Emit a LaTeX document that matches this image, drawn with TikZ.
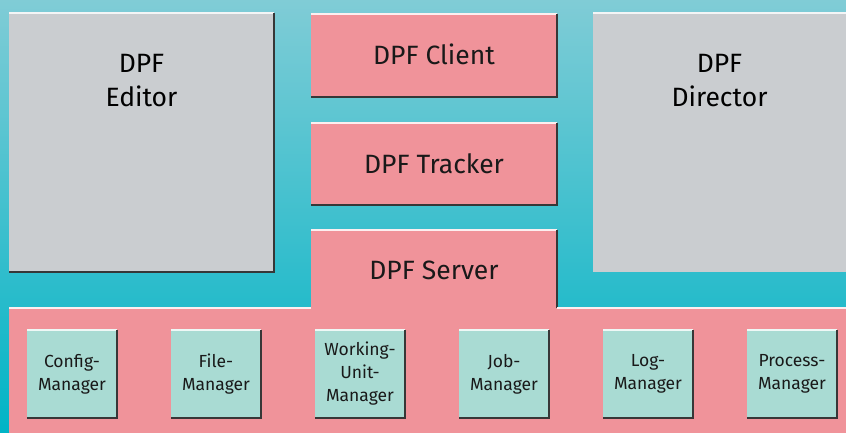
\documentclass[tikz,border=0pt]{standalone}
\usepackage{fontspec}
\setmainfont{Fira Sans}
\usepackage{tikz}
\usetikzlibrary{positioning}
\definecolor{skytop}{RGB}{128,204,214}
\definecolor{skybot}{RGB}{0,180,198}
\definecolor{boxgray}{RGB}{202,205,208}
\definecolor{boxpink}{RGB}{240,147,154}
\definecolor{boxmint}{RGB}{169,219,211}
\definecolor{edgedark}{RGB}{55,55,55}

\begin{document}
\begin{tikzpicture}[x=1pt,y=-1pt,inner sep=0pt,outer sep=0pt]
		\tikzstyle{block}=[rectangle,draw=none,text=black!90,align=center]
		\tikzstyle{big text}=[font=\fontsize{26.5}{34}\selectfont]
		\tikzstyle{small text}=[font=\fontsize{17.5}{23}\selectfont]
		\tikzstyle{grey block}=[block, fill=boxgray, big text];
		\tikzstyle{pink block}=[block, fill=boxpink, big text];
		\tikzstyle{manager}=[block, fill=boxmint, small text, minimum width=90pt, minimum height=88pt];
		\tikzstyle{shadow line}=[draw=edgedark, line width=2.5pt];
		\tikzstyle{light line}=[draw=white!85!boxpink, line width=1.5pt];
		\tikzstyle{light grey line}=[draw=white!80!boxgray, line width=1.5pt];
		
		% Draw the background
		\shade[top color=skytop, bottom color=skybot] (0,0) rectangle (846,433);
		\useasboundingbox (0,0) rectangle (846,433);
		
		% Draw the outer tools
		\node[grey block, minimum width=265pt, minimum height=259pt,
			label={[big text,align=center,anchor=north,yshift=-41pt]north:{DPF\\Editor}}] (editor) at (141.5,142.5) {};
		\node[grey block, minimum width=253pt, minimum height=259pt,
			label={[big text,align=center,anchor=north,yshift=-41pt]north:{DPF\\Director}}] (director) at (719.5,142.5) {};
		
		% Draw the middle column
		\node[pink block, minimum width=246pt, minimum height=83pt, text depth=3pt] (client) at (434,55.5) {DPF Client};
		\node[pink block, minimum width=246pt, minimum height=82pt] (tracker) at (434,164) {DPF Tracker};
		
		% Draw the server and its core
		\node[block, fill=boxpink, minimum width=837pt, minimum height=125pt] (core) at (427.5,370.5) {};
		\node[pink block, minimum width=246pt, minimum height=80pt] (server) at (434,270) {DPF Server};
		
		% Draw the managers
		\foreach \name / \x / \txt in {config/72/{Config-\\Manager}, file/216/{File-\\Manager},
			unit/360/{Working-\\Unit-\\Manager}, job/504/{Job-\\Manager},
			log/648/{Log-\\Manager}, process/792/{Process-\\Manager}}
		\node[manager] (\name) at (\x,374) {\txt};
		
		% Edges of the blocks
		\foreach \n in {editor,director}
		\draw[light grey line] (\n.north west) -- (\n.north east);
		\foreach \n in {client,tracker,server}
		\draw[light line] (\n.north west) -- (\n.north east);
		\foreach \n in {editor,client,tracker}
		\draw[shadow line] (\n.north east) -- (\n.south east) -- (\n.south west);
		\draw[shadow line] (server.north east) -- (server.east |- core.north);
		\draw[light line] (core.north west) -- (server.west |- core.north);
		\draw[light line] (server.east |- core.north) -- (core.north east);
		
		% Edges of the managers
		\foreach \n in {config,file,unit,job,log,process} {
			\draw[draw=white!80!boxmint, line width=1.2pt] (\n.north west) -- (\n.north east);
			\draw[shadow line] (\n.north east) -- (\n.south east) -- (\n.south west);
		}
	
	\end{tikzpicture}
\end{document}
